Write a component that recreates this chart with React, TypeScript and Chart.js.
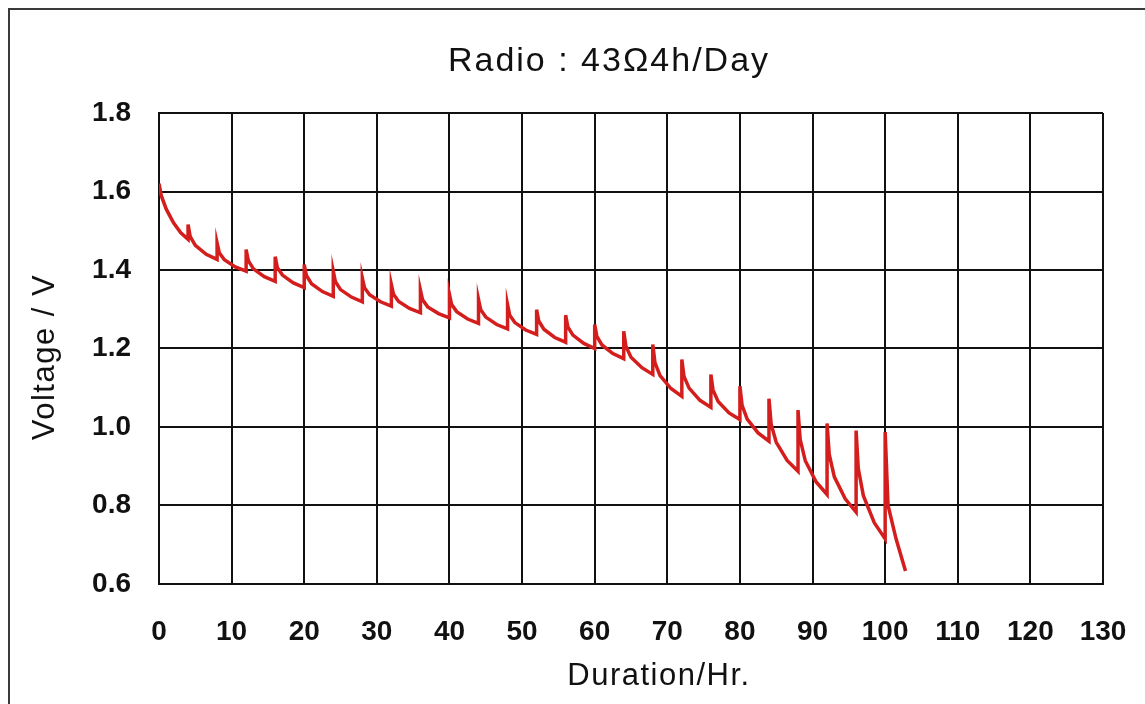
import React, { useEffect, useRef } from "react";
import { Chart, registerables } from "chart.js";

Chart.register(...registerables);

const chartTitle = "Radio : 43Ω4h/Day";
const yAxisTitle = "Voltage / V";
const xAxisTitle = "Duration/Hr.";

const durationHours = [
  0, 0.3, 1, 2, 3, 4,
  4, 4.3, 5, 6.5, 8,
  8, 8.3, 9, 10.5, 12,
  12, 12.3, 13, 14.5, 16,
  16, 16.3, 17, 18.5, 20,
  20, 20.3, 21, 22.5, 24,
  24, 24.3, 25, 26.5, 28,
  28, 28.3, 29, 30.5, 32,
  32, 32.3, 33, 34.5, 36,
  36, 36.3, 37, 38.5, 40,
  40, 40.3, 41, 42.5, 44,
  44, 44.3, 45, 46.5, 48,
  48, 48.3, 49, 50.5, 52,
  52, 52.3, 53, 54.5, 56,
  56, 56.3, 57, 58.5, 60,
  60, 60.3, 61, 62.5, 64,
  64, 64.3, 65, 66.5, 68,
  68, 68.3, 69, 70.5, 72,
  72, 72.3, 73, 74.5, 76,
  76, 76.3, 77, 78.5, 80,
  80, 80.3, 81, 82.5, 84,
  84, 84.3, 85, 86.5, 88,
  88, 88.3, 89, 90.5, 92,
  92, 92.3, 93, 94.5, 96,
  96, 96.3, 97, 98.5, 100,
  100, 100.4, 101.5, 102.8,
];

const voltageV = [
  1.62, 1.59, 1.555, 1.52, 1.495, 1.478,
  1.516, 1.485, 1.463, 1.44, 1.427,
  1.469, 1.444, 1.426, 1.408, 1.397,
  1.452, 1.424, 1.403, 1.383, 1.371,
  1.434, 1.406, 1.387, 1.367, 1.355,
  1.414, 1.386, 1.365, 1.345, 1.333,
  1.397, 1.37, 1.35, 1.331, 1.319,
  1.38, 1.355, 1.337, 1.319, 1.308,
  1.363, 1.338, 1.32, 1.302, 1.291,
  1.349, 1.324, 1.306, 1.289, 1.278,
  1.338, 1.312, 1.294, 1.275, 1.264,
  1.325, 1.299, 1.28, 1.261, 1.25,
  1.312, 1.285, 1.266, 1.247, 1.236,
  1.299, 1.27, 1.249, 1.228, 1.216,
  1.285, 1.255, 1.234, 1.213, 1.2,
  1.261, 1.231, 1.209, 1.187, 1.174,
  1.244, 1.206, 1.178, 1.151, 1.134,
  1.21, 1.164, 1.131, 1.098, 1.078,
  1.172, 1.129, 1.099, 1.068, 1.05,
  1.134, 1.094, 1.065, 1.036, 1.019,
  1.104, 1.055, 1.02, 0.985, 0.964,
  1.072, 1.007, 0.961, 0.915, 0.887,
  1.043, 0.968, 0.914, 0.86, 0.828,
  1.009, 0.93, 0.873, 0.817, 0.783,
  0.991, 0.894, 0.825, 0.756, 0.715,
  0.987, 0.8, 0.715, 0.633,
];

const xMin = 0;
const xMax = 130;
const xStep = 10;
const yMin = 0.6;
const yMax = 1.8;
const yStep = 0.2;

const textPlugin = {
  id: "textPlugin",
  afterDraw(chart: any) {
    const ctx = chart.ctx;
    ctx.save();
    ctx.fillStyle = "#111";
    ctx.textAlign = "center";
    ctx.textBaseline = "middle";
    ctx.letterSpacing = "2px";
    ctx.font = "34px 'Liberation Sans', Arial, sans-serif";
    ctx.fillText(chartTitle, 609, 62);
    ctx.letterSpacing = "1.5px";
    ctx.font = "31px 'Liberation Sans', Arial, sans-serif";
    ctx.fillText(xAxisTitle, 659, 676);
    ctx.translate(45, 357);
    ctx.rotate(-Math.PI / 2);
    ctx.fillText(yAxisTitle, 0, 0);
    ctx.restore();
  },
};

export default function App() {
  const canvasRef = useRef<HTMLCanvasElement | null>(null);

  useEffect(() => {
    if (!canvasRef.current) return;
    const points = durationHours.map((h, i) => ({ x: h, y: voltageV[i] }));
    const chart = new Chart(canvasRef.current, {
      type: "line",
      data: {
        datasets: [
          {
            data: points,
            borderColor: "#d41e1e",
            borderWidth: 3.5,
            pointRadius: 0,
            tension: 0,
            fill: false,
          },
        ],
      },
      options: {
        animation: false,
        responsive: false,
        devicePixelRatio: 1,
        layout: { padding: { top: 113, left: 0, right: 42, bottom: 0 } },
        plugins: {
          legend: { display: false },
          title: { display: false },
          tooltip: { enabled: false },
        },
        scales: {
          x: {
            type: "linear",
            min: xMin,
            max: xMax,
            afterFit: (s: any) => {
              s.height = 120;
              s.paddingLeft = 0;
              s.paddingRight = 0;
            },
            ticks: {
              stepSize: xStep,
              color: "#111",
              padding: 31,
              maxRotation: 0,
              font: { size: 28, weight: "bold", family: "'Liberation Sans', Arial, sans-serif" },
            },
            grid: { color: "#111", lineWidth: 2, drawTicks: false },
            border: { color: "#111", width: 2 },
          },
          y: {
            type: "linear",
            min: yMin,
            max: yMax,
            afterFit: (s: any) => {
              s.width = 159;
              s.paddingTop = 0;
              s.paddingBottom = 0;
            },
            ticks: {
              stepSize: yStep,
              color: "#111",
              padding: 28,
              callback: (v: any) => Number(v).toFixed(1),
              font: { size: 28, weight: "bold", family: "'Liberation Sans', Arial, sans-serif" },
            },
            grid: { color: "#111", lineWidth: 2, drawTicks: false },
            border: { color: "#111", width: 2 },
          },
        },
      },
      plugins: [textPlugin],
    });
    return () => chart.destroy();
  }, []);

  return (
    <div style={{ position: "fixed", left: 0, top: 0, width: 1145, height: 704, overflow: "hidden", background: "#fff" }}>
      <div
        style={{
          position: "absolute",
          left: 8,
          top: 8,
          width: 1200,
          height: 800,
          border: "2px solid #3a3a3a",
        }}
      />
      <canvas
        ref={canvasRef}
        width={1145}
        height={704}
        style={{ position: "absolute", left: 0, top: 0, width: 1145, height: 704 }}
      />
    </div>
  );
}
